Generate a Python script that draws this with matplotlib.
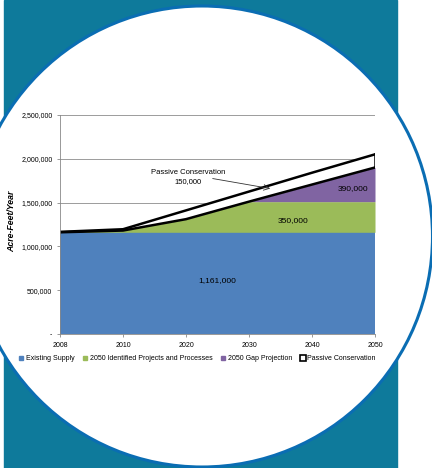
import numpy as np
import matplotlib.pyplot as plt
from matplotlib.patches import Circle, Rectangle
from matplotlib.lines import Line2D

# datos
years = ['2008', '2010', '2020', '2030', '2040', '2050']
existing = [1161000, 1161000, 1161000, 1161000, 1161000, 1161000]
identified = [0, 20000, 150000, 350000, 350000, 350000]
gap = [0, 0, 0, 0, 195000, 390000]
passive = [5000, 15000, 100000, 115000, 135000, 150000]
yticks = [0, 500000, 1000000, 1500000, 2000000, 2500000]
series_names = ['Existing Supply', '2050 Identified Projects and Processes',
                '2050 Gap Projection', 'Passive Conservation']

blue = '#4f81bd'
green = '#9bbb59'
purple = '#8064a2'
teal = '#0e7a9b'

plt.rcParams['font.family'] = ['Liberation Sans', 'DejaVu Sans']

fig = plt.figure(figsize=(4.32, 4.68), dpi=100)

# fondo: rectangulo y circulo
bg = fig.add_axes([0, 0, 1, 1])
bg.set_xlim(0, 432)
bg.set_ylim(468, 0)
bg.axis('off')
bg.add_patch(Rectangle((4, 0), 393, 468, color=teal))
bg.add_patch(Circle((202, 236.5), 230.5, facecolor='white', edgecolor='#0a6db3', lw=2.2))

ax = fig.add_axes([60/432, 1-334/468, 315/432, 219/468])
x = np.arange(len(years))
e = np.array(existing)
i = e + np.array(identified)
g = i + np.array(gap)
p = g + np.array(passive)

ax.fill_between(x, 0, e, color=blue, lw=0)
ax.fill_between(x, e, i, color=green, lw=0)
ax.fill_between(x, i, g, color=purple, lw=0)
ax.fill_between(x, g, p, facecolor='white', lw=0)
ax.plot(x, g, color='black', lw=1.8)
ax.plot(x, p, color='black', lw=1.8)
ax.plot([x[-1], x[-1]], [g[-1], p[-1]], color='black', lw=1.8)

ax.set_xlim(0, len(years)-1)
ax.set_ylim(0, 2500000)
ax.set_xticks(x)
ax.set_xticklabels(years)
ax.set_yticks(yticks)
ax.set_yticklabels(['-' if v == 0 else f'{v:,}' for v in yticks])
ax.tick_params(labelsize=5, length=2.5, width=0.6, color='#888888', pad=3)
ax.yaxis.grid(True, color='#8c8c8c', lw=0.6)
ax.set_axisbelow(True)
for s in ['top', 'right']:
    ax.spines[s].set_visible(False)
for s in ['left', 'bottom']:
    ax.spines[s].set_color('#888888')
    ax.spines[s].set_linewidth(0.6)

fig.text(12/432, 1-221/468, 'Acre-Feet/Year', fontsize=6.3, fontweight='bold', style='italic',
         rotation=90, ha='center', va='center')

ax.text(2.5, 605000, '1,161,000', fontsize=6, ha='center', va='center')
ax.text(3.7, 1300000, '350,000', fontsize=6, ha='center', va='center')
ax.text(4.65, 1655000, '390,000', fontsize=6, ha='center', va='center')
ax.text(2.03, 1790000, 'Passive Conservation\n150,000', fontsize=5.5, ha='center',
        va='center', linespacing=1.5)
ax.annotate('', xy=(3.38, 1655000), xytext=(2.38, 1780000),
            arrowprops=dict(arrowstyle='->', color='#333333', lw=0.6))

handles = [Line2D([], [], marker='s', ls='', color=blue, markersize=3),
           Line2D([], [], marker='s', ls='', color=green, markersize=3),
           Line2D([], [], marker='s', ls='', color=purple, markersize=3),
           Line2D([], [], marker='s', ls='', markerfacecolor='white',
                  markeredgecolor='black', markeredgewidth=1.2, markersize=4)]
fig.legend(handles, series_names, loc='center', bbox_to_anchor=(197/432, 1-359/468),
           ncol=4, frameon=False, fontsize=5, handlelength=0.8, handletextpad=0.3,
           columnspacing=1.1)

fig.savefig('out.png', dpi=100)
